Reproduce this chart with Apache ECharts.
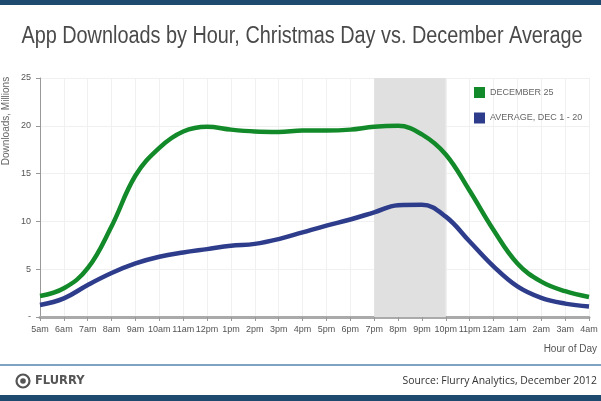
<!DOCTYPE html>
<html><head><meta charset="utf-8">
<script src="https://cdn.jsdelivr.net/npm/echarts@6/dist/echarts.min.js"></script>
<style>html,body{margin:0;padding:0;background:#fff}#c{width:601px;height:401px}</style>
</head><body><div id="c"></div>
<script>
const hours = ['5am','6am','7am','8am','9am','10am','11am','12pm','1pm','2pm','3pm','4pm','5pm','6pm','7pm','8pm','9pm','10pm','11pm','12am','1am','2am','3am','4am'];
const dec25 = [2.2,3.0,5.1,9.5,14.8,17.7,19.4,19.9,19.6,19.4,19.35,19.5,19.5,19.6,19.9,20.0,19.1,17.0,13.2,9.1,5.6,3.7,2.7,2.1];
const decAvg = [1.25,1.95,3.35,4.6,5.6,6.3,6.75,7.1,7.45,7.65,8.15,8.85,9.55,10.2,10.95,11.7,11.75,10.5,7.9,5.3,3.2,2.0,1.4,1.1];
const yTicks = [0,5,10,15,20,25];
const bandStart = '7pm', bandEnd = '10pm';
const chart = echarts.init(document.getElementById('c'));
const F = 'Liberation Sans';
chart.setOption({
  animation:false,
  backgroundColor:'#fff',
  textStyle:{fontFamily:F},
  graphic:[
    {type:'rect',left:0,top:0,shape:{width:601,height:5},style:{fill:'#1f4a70'}},
    {type:'rect',left:0,top:395,shape:{width:601,height:6},style:{fill:'#1f4a70'}},
    {type:'rect',left:0,top:364,shape:{width:601,height:2},style:{fill:'#7fa3c4'}},
    {type:'text',x:302,y:37,scaleX:0.863,style:{text:'App Downloads by Hour, Christmas Day vs. December Average',font:'23px "Liberation Sans"',fill:'#4a4a4a',textAlign:'center',textVerticalAlign:'middle'}},
    {type:'text',x:6,y:121,rotation:Math.PI/2,style:{text:'Downloads, Millions',font:'10px "Liberation Sans"',fill:'#666',textAlign:'center',textVerticalAlign:'middle'}},
    {type:'text',x:597,y:349,style:{text:'Hour of Day',font:'10px "Liberation Sans"',fill:'#555',textAlign:'right',textVerticalAlign:'middle'}},
    {type:'circle',shape:{cx:23,cy:381,r:6.5},style:{fill:'none',stroke:'#555',lineWidth:2.2}},
    {type:'circle',shape:{cx:23,cy:381,r:2.8},style:{fill:'#555'}},
    {type:'text',x:35,y:381,style:{text:'FLURRY',font:'bold 11.5px "DejaVu Sans"',fill:'#555',textVerticalAlign:'middle'}},
    {type:'text',x:597,y:381,style:{text:'Source: Flurry Analytics, December 2012',font:'10.4px "Open Sans"',fill:'#333',textAlign:'right',textVerticalAlign:'middle'}}
  ],
  legend:{
    orient:'vertical',left:469,top:82,itemWidth:11,itemHeight:11,itemGap:14.5,
    icon:'rect',
    textStyle:{fontSize:9,color:'#666',fontFamily:F},
    data:['DECEMBER 25','AVERAGE, DEC 1 - 20']
  },
  grid:{left:40,right:12,top:78,bottom:84},
  xAxis:{
    type:'category',data:hours,boundaryGap:false,
    axisLine:{lineStyle:{color:'#aaa',width:3}},
    axisTick:{show:true,alignWithLabel:true,length:4,lineStyle:{color:'#999'}},
    axisLabel:{fontSize:9,color:'#555',margin:8,interval:0},
    splitLine:{show:true,lineStyle:{color:'#f0f0f0'}}
  },
  yAxis:{
    type:'value',min:0,max:25,interval:5,
    axisLine:{show:true,lineStyle:{color:'#999',width:1}},
    axisTick:{show:true,length:4,lineStyle:{color:'#999'}},
    axisLabel:{fontSize:9,color:'#555',margin:9,formatter:v=>v===0?'-':String(v)},
    splitLine:{show:true,lineStyle:{color:'#f0f0f0'}}
  },
  series:[
    {name:'DECEMBER 25',type:'line',smooth:0.4,symbol:'none',data:dec25,
     itemStyle:{color:'#138a2a'},lineStyle:{color:'#138a2a',width:4.5},z:3,
     markArea:{silent:true,itemStyle:{color:'#e0e0e0'},data:[[{xAxis:bandStart},{xAxis:bandEnd}]]}},
    {name:'AVERAGE, DEC 1 - 20',type:'line',smooth:0.4,symbol:'none',data:decAvg,
     itemStyle:{color:'#2e3c8c'},lineStyle:{color:'#2e3c8c',width:4.5},z:3}
  ]
});
</script></body></html>
